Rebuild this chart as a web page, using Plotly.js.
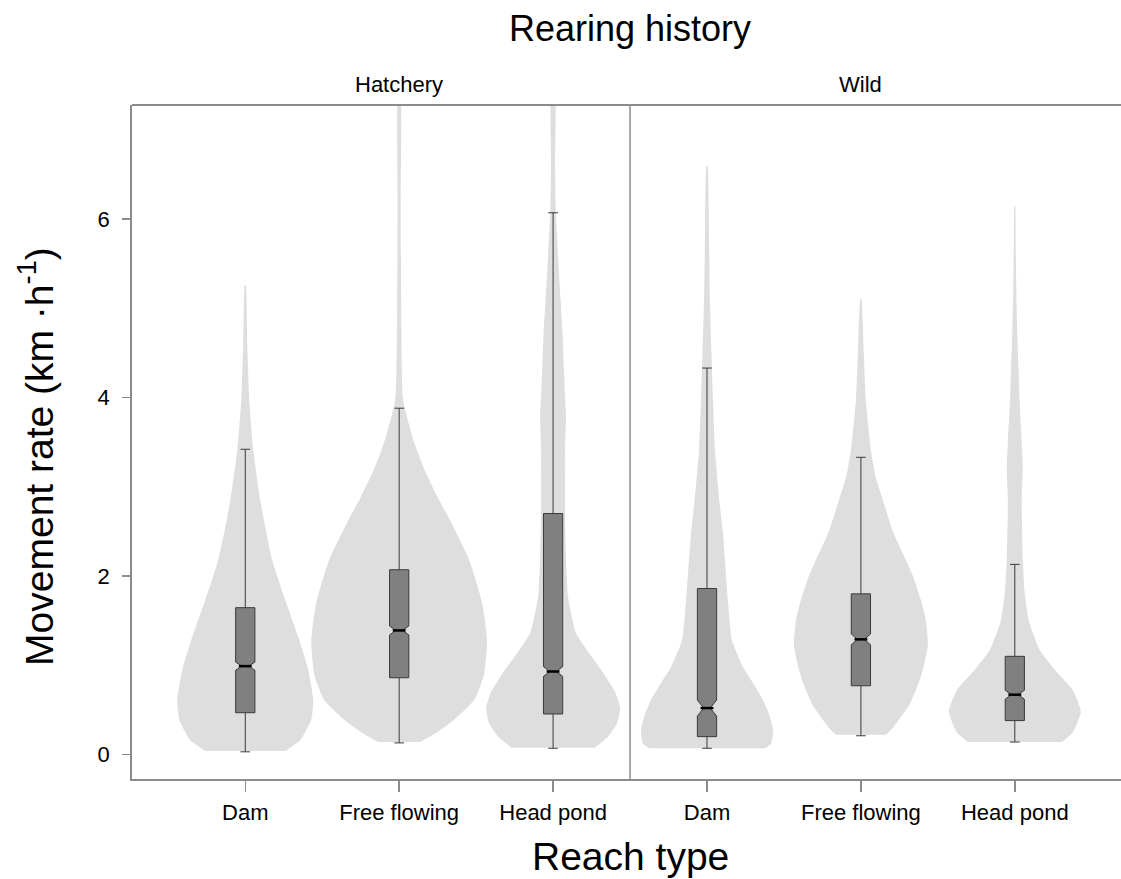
<!DOCTYPE html>
<html>
<head>
<meta charset="utf-8">
<script src="https://cdn.plot.ly/plotly-3.0.1.min.js"></script>
<style>html,body{margin:0;padding:0;background:#fff;}</style>
</head>
<body>
<div id="chart" style="width:1121px;height:879px;"></div>
<script>
// ---------- DATA ----------
const categories = ["Dam", "Free flowing", "Head pond", "Dam", "Free flowing", "Head pond"];
const panels = ["Hatchery", "Wild"];

// Box statistics (km·h^-1)
const lowerWhisker = [0.03, 0.13, 0.07, 0.07, 0.21, 0.14];
const q1Values     = [0.468, 0.86, 0.454, 0.20, 0.77, 0.38];
const medianValues = [0.99, 1.39, 0.93, 0.52, 1.29, 0.67];
const q3Values     = [1.645, 2.07, 2.70, 1.86, 1.80, 1.10];
const upperWhisker = [3.42, 3.88, 6.07, 4.33, 3.33, 2.13];
const notchHalfSpan = [0.045, 0.05, 0.055, 0.09, 0.06, 0.05];

// Violin density profiles: levels (km·h^-1) and half-widths (category units)
const hatcheryDamLevels   = [0.04, 0.16, 0.39, 0.61, 0.95, 1.28, 1.73, 2.18, 2.85, 3.41, 3.97, 4.6, 5.26];
const hatcheryDamDensity  = [0.26, 0.357, 0.429, 0.442, 0.409, 0.351, 0.26, 0.175, 0.097, 0.052, 0.026, 0.013, 0.003];

const hatcheryFreeLevels  = [0.14, 0.25, 0.39, 0.61, 0.9, 1.28, 1.7, 2.18, 2.6, 2.85, 3.2, 3.5, 3.97, 5.1, 6.2, 7.5];
const hatcheryFreeDensity = [0.136, 0.247, 0.357, 0.487, 0.552, 0.571, 0.539, 0.455, 0.338, 0.26, 0.162, 0.097, 0.026, 0.013, 0.01, 0.006];

const hatcheryPondLevels  = [0.076, 0.2, 0.35, 0.52, 0.7, 0.95, 1.15, 1.36, 1.77, 2.2, 2.7, 3.2, 3.45, 3.8, 4.0, 4.3, 4.7, 5.09, 5.6, 6.07, 6.6, 7.5];
const hatcheryPondDensity = [0.27, 0.357, 0.416, 0.435, 0.403, 0.312, 0.227, 0.149, 0.097, 0.084, 0.078, 0.078, 0.078, 0.084, 0.078, 0.071, 0.062, 0.049, 0.032, 0.018, 0.013, 0.01];

const wildDamLevels       = [0.07, 0.12, 0.27, 0.45, 0.61, 0.8, 0.98, 1.28, 1.73, 2.48, 2.85, 3.4, 3.97, 4.5, 5.1, 5.8, 6.6];
const wildDamDensity      = [0.377, 0.416, 0.429, 0.403, 0.364, 0.299, 0.234, 0.162, 0.136, 0.104, 0.08, 0.052, 0.039, 0.029, 0.019, 0.013, 0.003];

const wildFreeLevels      = [0.22, 0.3, 0.39, 0.55, 0.72, 0.95, 1.23, 1.5, 1.73, 2.0, 2.18, 2.5, 2.85, 3.1, 3.41, 3.97, 4.5, 5.11];
const wildFreeDensity     = [0.162, 0.208, 0.247, 0.312, 0.357, 0.403, 0.435, 0.422, 0.39, 0.338, 0.292, 0.208, 0.143, 0.097, 0.065, 0.032, 0.019, 0.003];

const wildPondLevels      = [0.14, 0.25, 0.48, 0.72, 0.95, 1.17, 1.5, 1.8, 2.18, 2.85, 3.2, 3.5, 3.97, 4.3, 4.72, 5.2, 5.7, 6.15];
const wildPondDensity     = [0.305, 0.377, 0.429, 0.377, 0.26, 0.162, 0.091, 0.065, 0.052, 0.045, 0.052, 0.045, 0.031, 0.025, 0.016, 0.01, 0.006, 0.002];

const violinLevels  = [hatcheryDamLevels, hatcheryFreeLevels, hatcheryPondLevels, wildDamLevels, wildFreeLevels, wildPondLevels];
const violinDensity = [hatcheryDamDensity, hatcheryFreeDensity, hatcheryPondDensity, wildDamDensity, wildFreeDensity, wildPondDensity];

// ---------- STYLE ----------
const FONT = "Liberation Sans, Arial, Helvetica, sans-serif";
const VIOLIN_FILL = "#dedede";
const BOX_FILL = "#808080";
const BOX_LINE = "#3a3a3a";
const FRAME = "#8c8c8c";
const BOX_WIDTH = 0.125;
const NOTCH_WIDTH = 0.33;

const positions = categories.map((_, i) => i);
const traces = [];

// Violins (base subplot)
violinLevels.forEach((lv, i) => {
  const dn = violinDensity[i];
  const xs = [], ys = [];
  for (let k = 0; k < lv.length; k++) { xs.push(positions[i] + dn[k]); ys.push(lv[k]); }
  for (let k = lv.length - 1; k >= 0; k--) { xs.push(positions[i] - dn[k]); ys.push(lv[k]); }
  traces.push({
    type: "scatter", x: xs, y: ys, mode: "lines", fill: "toself",
    fillcolor: VIOLIN_FILL, line: {width: 0, color: VIOLIN_FILL, shape: "spline", smoothing: 0.5},
    hoverinfo: "skip", showlegend: false, xaxis: "x", yaxis: "y"
  });
});

// Notched boxes (overlay subplot so they sit above the violins)
traces.push({
  type: "box", x: positions, q1: q1Values, median: medianValues, q3: q3Values,
  lowerfence: lowerWhisker, upperfence: upperWhisker, notchspan: notchHalfSpan,
  notched: true, notchwidth: NOTCH_WIDTH, width: BOX_WIDTH, whiskerwidth: 0.5,
  boxpoints: false, fillcolor: BOX_FILL, line: {color: BOX_LINE, width: 1},
  hoverinfo: "skip", showlegend: false, xaxis: "x2", yaxis: "y2"
});

// Thick black median marks
const medX = [], medY = [];
const halfNotch = BOX_WIDTH / 2 * (1 - NOTCH_WIDTH);
positions.forEach((p, i) => {
  medX.push(p - halfNotch, p + halfNotch, null);
  medY.push(medianValues[i], medianValues[i], null);
});
traces.push({
  type: "scatter", mode: "lines", x: medX, y: medY,
  line: {color: "#000", width: 2.5}, hoverinfo: "skip", showlegend: false,
  xaxis: "x2", yaxis: "y2"
});

const XRANGE = [-0.736, 5.690];
const YRANGE = [-0.2745, 7.2773];

const layout = {
  width: 1121, height: 879,
  margin: {l: 132, r: 0, t: 105, b: 100},
  paper_bgcolor: "#fff", plot_bgcolor: "#fff",
  font: {family: FONT, color: "#000"},
  showlegend: false,
  xaxis: {
    range: XRANGE, tickvals: positions, ticktext: categories,
    ticks: "outside", ticklen: 11, tickwidth: 1.5, tickcolor: FRAME,
    showline: true, linecolor: FRAME, linewidth: 1.8,
    showgrid: false, zeroline: false, fixedrange: true,
    tickfont: {family: FONT, size: 22, color: "#000"}, ticklabelstandoff: 2
  },
  yaxis: {
    range: YRANGE, tickvals: [0, 2, 4, 6], ticktext: ["0", "2", "4", "6"],
    ticks: "outside", ticklen: 8, tickwidth: 1.5, tickcolor: FRAME,
    showline: true, linecolor: FRAME, linewidth: 1.8,
    showgrid: false, zeroline: false, fixedrange: true,
    tickfont: {family: FONT, size: 22, color: "#000"}, ticklabelstandoff: 8
  },
  xaxis2: {range: XRANGE, overlaying: "x", anchor: "y2", visible: false, fixedrange: true},
  yaxis2: {range: YRANGE, overlaying: "y", anchor: "x2", visible: false, fixedrange: true},
  shapes: [
    {type: "line", xref: "paper", yref: "paper", x0: 0, x1: 1, y0: 1, y1: 1, line: {color: FRAME, width: 1.8}},
    {type: "line", xref: "x", yref: "paper", x0: 2.5, x1: 2.5, y0: 0, y1: 1, line: {color: FRAME, width: 1.5}}
  ],
  annotations: [
    {text: "Rearing history", xref: "x", yref: "paper", x: 2.5, y: 1.113, showarrow: false,
     xanchor: "center", yanchor: "middle", font: {family: FONT, size: 36, color: "#000"}},
    {text: panels[0], xref: "x", yref: "paper", x: 1, y: 1.030, showarrow: false,
     xanchor: "center", yanchor: "middle", font: {family: FONT, size: 22, color: "#000"}},
    {text: panels[1], xref: "x", yref: "paper", x: 4, y: 1.030, showarrow: false,
     xanchor: "center", yanchor: "middle", font: {family: FONT, size: 22, color: "#000"}},
    {text: "Reach type", xref: "x", yref: "paper", x: 2.5, y: -0.115, showarrow: false,
     xanchor: "center", yanchor: "middle", font: {family: FONT, size: 39, color: "#000"}},
    {text: "Movement rate (km ·h<sup>-1</sup>)", xref: "paper", yref: "paper", x: -0.097, y: 0.478,
     showarrow: false, textangle: -90, xanchor: "center", yanchor: "middle",
     font: {family: FONT, size: 39, color: "#000"}}
  ]
};

Plotly.newPlot("chart", traces, layout, {staticPlot: true, displayModeBar: false});
</script>
</body>
</html>
